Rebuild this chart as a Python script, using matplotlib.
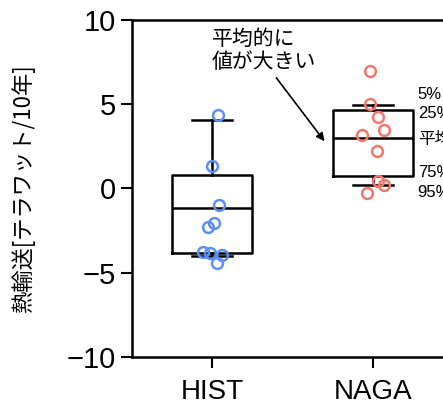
import matplotlib
matplotlib.use("Agg")
import matplotlib.pyplot as plt

plt.rcParams['font.family'] = ['Liberation Sans', 'Noto Sans CJK JP', 'DejaVu Sans']

# データ
groups = ["HIST", "NAGA"]
hist_vals = [4.38, 1.35, -0.97, -2.06, -2.26, -3.75, -3.81, -3.95, -4.44]
hist_jit = [0.037, 0.0, 0.042, 0.015, -0.027, -0.057, -0.010, 0.062, 0.030]
naga_vals = [6.96, 5.02, 4.23, 3.49, 3.15, 2.20, 0.42, 0.22, -0.27]
naga_jit = [-0.017, -0.017, 0.033, 0.070, -0.064, 0.025, 0.033, 0.070, -0.033]

# 箱ひげの統計量 (下ひげ, 25%, 中央, 75%, 上ひげ)
whislo = [-3.99, 0.22]
q1 = [-3.83, 0.76]
med = [-1.13, 2.98]
q3 = [0.82, 4.68]
whishi = [4.09, 4.98]

pct_labels = ["5%", "25%", "平均値", "75%", "95%"]
pct_y = [5.58, 4.45, 2.9, 0.93, -0.26]

fig = plt.figure(figsize=(4.43, 4.01), dpi=100)
ax = fig.add_axes([0.2973, 0.110, 0.7255, 0.840])

stats = []
for i, g in enumerate(groups):
    stats.append(dict(label=g, whislo=whislo[i], q1=q1[i], med=med[i],
                      q3=q3[i], whishi=whishi[i], fliers=[]))

lw = 1.8
ax.bxp(stats, positions=[1, 2], widths=0.5, showfliers=False,
       boxprops=dict(color="black", linewidth=lw),
       medianprops=dict(color="black", linewidth=lw),
       whiskerprops=dict(color="black", linewidth=lw),
       capprops=dict(color="black", linewidth=lw))

# 個々の点
ax.plot([1 + j for j in hist_jit], hist_vals, "o", mfc="none", mec="#5b8ff2",
        ms=7.8, mew=1.8, zorder=3)
ax.plot([2 + j for j in naga_jit], naga_vals, "o", mfc="none", mec="#f3786c",
        ms=7.8, mew=1.8, zorder=3)

# 右側の注記（参照図では右端で切れている）
for lab, y in zip(pct_labels, pct_y):
    ax.text(2.28, y, lab, fontsize=12, va="center", ha="left",
            family=['Liberation Sans', 'Noto Sans CJK JP'], clip_on=False)

ax.text(1.0, 8.2, "平均的に\n値が大きい", fontsize=15, va="center", ha="left",
        family=['Noto Sans CJK JP'], linespacing=1.1)
ax.annotate("", xy=(1.70, 2.8), xytext=(1.40, 6.57),
            arrowprops=dict(arrowstyle="-|>", color="black", lw=1.2,
                            mutation_scale=12, shrinkA=0, shrinkB=0))

ax.set_xlim(0.5, 2.5)
ax.set_ylim(-10, 10)
ax.set_yticks([-10, -5, 0, 5, 10])
ax.set_xticks([1, 2])
ax.set_xticklabels(groups)
ax.tick_params(axis="y", labelsize=21, length=8, width=1.5)
ax.tick_params(axis="x", labelsize=20, length=8, width=1.5, pad=8)
for s in ax.spines.values():
    s.set_linewidth(1.8)

ax.set_ylabel("熱輸送[テラワット/10年]", fontsize=16,
              family=['Noto Sans CJK JP'])
ax.yaxis.set_label_coords(-0.30, 0.5)

plt.savefig("out.png", dpi=100)
